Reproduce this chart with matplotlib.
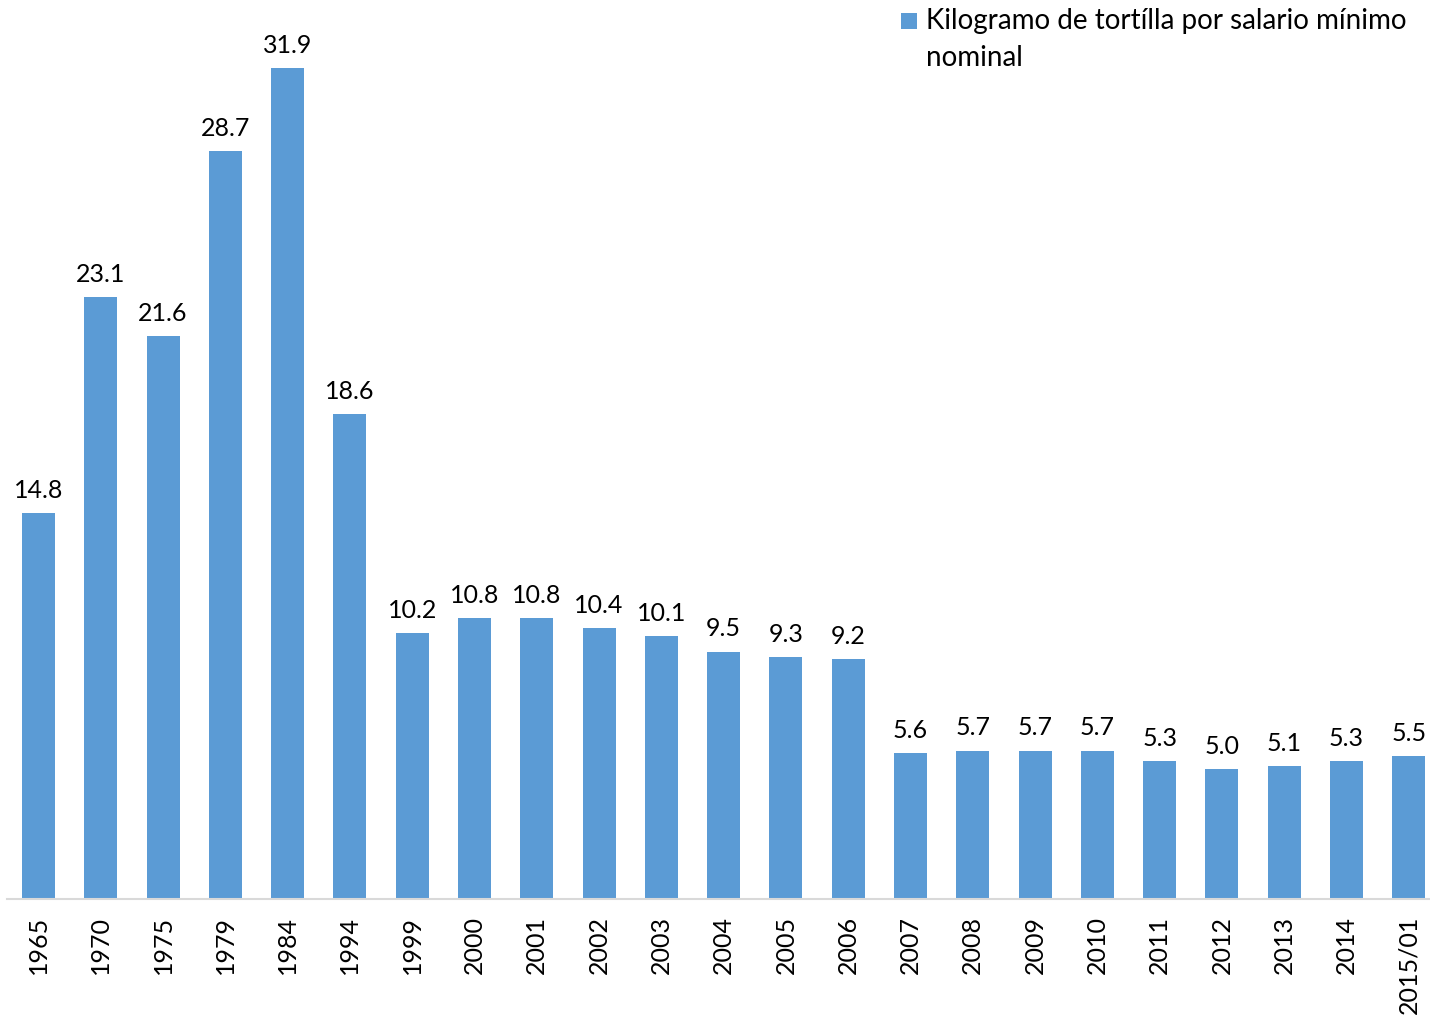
import matplotlib
matplotlib.use("Agg")
import matplotlib.pyplot as plt
from matplotlib.patches import Rectangle
from matplotlib.legend_handler import HandlerPatch

plt.rcParams['font.family'] = ['Lato', 'DejaVu Sans']

# datos
anios = ["1965", "1970", "1975", "1979", "1984", "1994", "1999", "2000", "2001",
         "2002", "2003", "2004", "2005", "2006", "2007", "2008", "2009", "2010",
         "2011", "2012", "2013", "2014", "2015/01"]
kg_tortilla = [14.8, 23.1, 21.6, 28.7, 31.9, 18.6, 10.2, 10.8, 10.8,
               10.4, 10.1, 9.5, 9.3, 9.2, 5.6, 5.7, 5.7, 5.7,
               5.3, 5.0, 5.1, 5.3, 5.5]
serie = "Kilogramo de tortílla por salario mínimo\nnominal"

W, H = 1430, 1023
fig = plt.figure(figsize=(W / 100, H / 100), dpi=100)

# eje: de x=7 a x=1430, base en y=899
ax = fig.add_axes([7 / W, 1 - 899 / H, 1 - 7 / W, 899 / H])

pos = list(range(len(anios)))
barras = ax.bar(pos, kg_tortilla, width=0.53, color="#5B9BD5", label=serie)
ax.bar_label(barras, labels=["%.1f" % v for v in kg_tortilla],
             padding=8, fontsize=18, color="black")

ax.set_xlim(-0.506, 22.34)
ax.set_ylim(0, 899 / 26.05)

ax.set_xticks(pos)
ax.set_xticklabels(anios, rotation=90, fontsize=18, va="top")
ax.tick_params(axis="x", length=0, pad=12)
ax.set_yticks([])

for lado in ["top", "right", "left"]:
    ax.spines[lado].set_visible(False)
ax.spines["bottom"].set_color("#D9D9D9")
ax.spines["bottom"].set_linewidth(1.5)


# cuadrito de la leyenda alineado con la primera linea
def cuadro(legend, orig_handle, xdescent, ydescent, width, height, fontsize):
    lado = 11.5
    return Rectangle((-xdescent, -ydescent + height / 2 - lado / 2 + 14), lado, lado)


leg = ax.legend(handles=[barras.patches[0]], labels=[serie],
                loc="upper left", bbox_to_anchor=(898 / W, 1 - 5 / H),
                bbox_transform=fig.transFigure,
                frameon=False, fontsize=20, handlelength=0.6, handleheight=0.6,
                handletextpad=0.3, borderaxespad=0, borderpad=0.1,
                handler_map={Rectangle: HandlerPatch(patch_func=cuadro)})
for t in leg.get_texts():
    t.set_linespacing(1.55)

fig.savefig("out.png", dpi=100)
